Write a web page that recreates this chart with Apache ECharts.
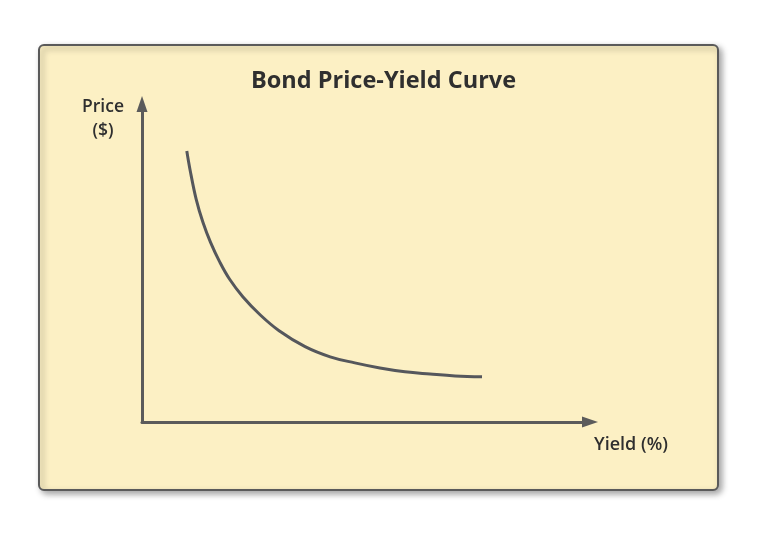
<!DOCTYPE html>
<html>
<head>
<meta charset="utf-8">
<script src="https://cdn.jsdelivr.net/npm/echarts@6/dist/echarts.min.js"></script>
<style>html,body{margin:0;padding:0;background:#fff}#c{width:766px;height:538px}</style>
</head>
<body>
<div id="c"></div>
<script>
const titleText = 'Bond Price-Yield Curve';
const xName = 'Yield (%)';
const yName = 'Price\n($)';
const yieldVals = [1.00, 1.07, 1.21, 1.36, 1.53, 1.74, 1.96, 2.25, 2.63, 3.06, 3.64, 4.20, 4.75, 5.31, 5.87, 6.43, 6.99, 7.59];
const priceVals = [85.2, 79.5, 70.0, 62.8, 56.5, 50.2, 44.8, 39.4, 33.8, 28.7, 23.7, 20.5, 18.6, 17.0, 15.8, 15.1, 14.5, 14.2];

const chart = echarts.init(document.getElementById('c'));
const axisColor = '#5b5b5b';
const fontFam = '"Open Sans", Lato, sans-serif';
chart.setOption({
  animation: false,
  backgroundColor: '#ffffff',
  title: {
    text: titleText, left: 246, top: 61,
    textStyle: {fontFamily: fontFam, fontSize: 23.5, fontWeight: 'bold', color: '#2f2f2f', lineHeight: 30}
  },
  grid: {left: 142, top: 104, right: 176, bottom: 116},
  xAxis: {
    type: 'value', min: 0, max: 10,
    axisLine: {show: true, symbol: ['none', 'triangle'], symbolSize: [11, 16], lineStyle: {color: axisColor, width: 3}},
    axisTick: {show: false}, axisLabel: {show: false}, splitLine: {show: false}
  },
  yAxis: {
    type: 'value', min: 0, max: 100,
    axisLine: {show: true, symbol: ['none', 'triangle'], symbolSize: [11, 16], lineStyle: {color: axisColor, width: 3}},
    axisTick: {show: false}, axisLabel: {show: false}, splitLine: {show: false}
  },
  graphic: [
    {type: 'rect', z: -100, shape: {x: 39, y: 45, width: 679, height: 445, r: 5},
     style: {fill: '#fcf0c4', stroke: '#5a5a5a', lineWidth: 2, shadowBlur: 6, shadowOffsetX: 3, shadowOffsetY: 3, shadowColor: 'rgba(0,0,0,0.35)'}},
    {type: 'text', x: 103, y: 95, z: 10,
     style: {text: yName, fill: '#2f2f2f', font: '600 17.5px ' + fontFam, align: 'center', verticalAlign: 'top', lineHeight: 24}},
    {type: 'text', x: 594, y: 433, z: 10,
     style: {text: xName, fill: '#2f2f2f', font: '600 18px ' + fontFam, verticalAlign: 'top', lineHeight: 24}}
  ],
  series: [{
    type: 'line', smooth: 0.4, showSymbol: false,
    data: yieldVals.map((x, i) => [x, priceVals[i]]),
    lineStyle: {color: '#55575c', width: 3}
  }]
});
</script>
</body>
</html>
